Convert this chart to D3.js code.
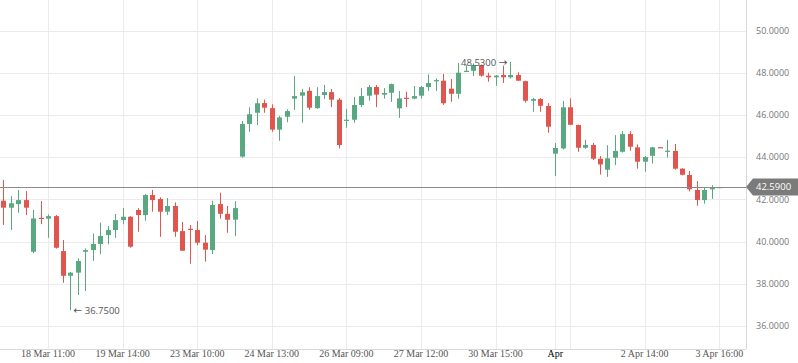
<!DOCTYPE html>
<html>
<head>
<meta charset="utf-8">
<script src="https://cdn.jsdelivr.net/npm/d3@7"></script>
<style>
  html, body { margin: 0; padding: 0; background: #fff; }
  svg { display: block; }
</style>
</head>
<body>
<svg id="chart" width="798" height="363"></svg>
<script>
// ---- data ----
const open  = [41.94,41.61,41.78,41.97,39.52,41.13,41.09,41.21,39.55,38.38,38.53,39.52,39.60,39.89,40.31,40.55,41.02,41.18,41.50,41.26,42.21,42.02,41.42,41.69,40.50,40.61,40.55,39.95,39.60,41.78,41.32,41.04,44.03,45.58,46.11,46.57,46.33,45.31,45.92,46.78,46.92,47.15,46.33,46.95,47.09,46.73,45.73,45.78,46.48,46.92,47.33,46.97,47.06,46.32,46.82,46.78,46.92,47.33,47.60,47.63,47.25,47.01,48.06,48.10,48.37,47.87,47.79,47.90,47.79,47.90,47.61,46.68,46.76,46.43,44.17,44.42,46.37,45.53,44.45,44.58,43.93,43.41,43.98,44.26,45.10,44.47,43.79,44.07,44.48,44.28,44.30,43.46,43.16,42.45,41.97,42.48,42.56];
const high  = [42.92,42.16,42.45,42.40,41.50,41.92,41.29,41.26,40.08,38.56,39.21,39.68,40.39,40.90,40.74,41.31,41.59,41.21,41.59,42.26,42.45,42.10,42.07,41.86,40.93,40.79,40.98,40.31,41.94,42.32,41.69,41.92,45.72,46.37,46.79,46.73,46.51,45.96,46.27,47.85,47.24,47.32,47.32,47.43,47.24,46.81,46.29,46.86,47.28,47.43,47.43,47.28,47.49,47.14,47.11,47.38,47.38,47.93,47.74,47.95,47.71,48.47,48.37,48.45,48.40,48.01,47.90,48.34,48.53,48.03,47.63,46.82,46.81,46.57,44.68,46.67,46.79,45.55,44.83,44.68,44.06,44.57,45.05,45.24,45.24,44.61,44.06,44.48,44.48,44.82,44.63,43.48,43.35,42.87,42.56,42.68,42.60];
const low   = [40.79,40.55,41.37,41.26,39.45,40.83,40.18,39.67,38.05,36.75,37.47,37.66,39.09,39.41,39.87,40.18,40.82,39.71,40.47,40.99,41.42,40.23,41.26,40.23,39.55,38.95,39.84,39.05,39.41,41.09,40.42,40.27,43.98,45.21,45.53,46.11,45.21,44.78,45.66,46.25,45.64,46.25,46.30,46.76,46.38,44.42,45.40,45.64,46.38,46.68,46.38,46.78,46.62,45.87,46.38,46.75,46.78,47.14,47.14,46.48,46.63,46.78,48.04,47.85,47.82,47.58,47.39,47.52,47.73,47.63,46.59,46.16,46.16,45.16,43.11,44.37,45.54,44.26,44.40,43.87,43.18,43.07,43.63,44.22,44.31,43.46,43.31,43.70,44.47,43.99,43.41,43.14,42.38,41.70,41.80,42.03,42.56];
const close = [41.61,41.82,41.97,41.61,41.10,41.09,41.21,39.71,38.38,38.53,39.08,39.60,39.89,40.27,40.55,41.02,41.18,39.76,41.26,42.21,41.97,41.42,41.69,40.47,39.57,40.58,39.95,39.62,41.74,41.32,41.04,41.59,45.58,46.04,46.56,46.35,45.31,45.89,46.19,46.90,47.08,46.35,46.90,47.09,46.73,44.58,45.78,46.48,46.90,47.33,46.97,47.05,47.47,46.79,46.79,46.90,47.33,47.52,47.66,46.56,47.01,48.01,48.10,48.37,47.87,47.79,47.87,47.79,47.90,47.63,46.68,46.76,46.44,45.45,44.44,46.37,45.54,44.45,44.58,43.93,43.66,43.95,44.30,45.10,44.50,43.79,44.01,44.47,44.47,44.31,43.46,43.17,42.48,41.97,42.45,42.57,42.59];

const gridIndex  = [6, 16, 26, 36, 46, 56, 66, 74, 76, 86, 96];
const tickIndex  = [6, 16, 26, 36, 46, 56, 66, 74, 86, 96];
const tickLabels = ["18 Mar 11:00","19 Mar 14:00","23 Mar 10:00","24 Mar 13:00","26 Mar 09:00","27 Mar 12:00","30 Mar 15:00","Apr","2 Apr 14:00","3 Apr 16:00"];
const priceTicks = [36, 38, 40, 42, 44, 46, 48, 50];
const lastPrice = 42.59;
const maxHigh = {index: 68, value: 48.53};
const minLow  = {index: 9,  value: 36.75};

// ---- layout ----
const W = 798, H = 363;
const plotRight = 746, plotBottom = 349;
const svg = d3.select("#chart");

const n = open.length;
const x = d3.scaleLinear().domain([0, n - 1]).range([3.3, 719.3]);
const y = d3.scaleLinear().domain([34.91, 51.456]).range([plotBottom, 0]);

const green = "#5aa882", red = "#e0564f";
const fmt = d3.format(".4f");
const sans = "'Open Sans', sans-serif";

// horizontal grid
svg.append("g").selectAll("line").data(priceTicks).join("line")
  .attr("x1", 0).attr("x2", plotRight)
  .attr("y1", d => Math.round(y(d)) + 0.5).attr("y2", d => Math.round(y(d)) + 0.5)
  .attr("stroke", "#ebebeb").attr("stroke-width", 1);

// vertical grid
svg.append("g").selectAll("line").data(gridIndex).join("line")
  .attr("x1", d => Math.round(x(d)) + 0.5).attr("x2", d => Math.round(x(d)) + 0.5)
  .attr("y1", 0).attr("y2", plotBottom)
  .attr("stroke", "#ebebeb").attr("stroke-width", 1);

// axis borders
svg.append("line").attr("x1", plotRight + 0.5).attr("x2", plotRight + 0.5)
  .attr("y1", 0).attr("y2", plotBottom).attr("stroke", "#d9d9d9");
svg.append("line").attr("x1", 0).attr("x2", plotRight)
  .attr("y1", plotBottom + 0.5).attr("y2", plotBottom + 0.5).attr("stroke", "#d9d9d9");

// candles
const idx = d3.range(n);
const cg = svg.append("g");
const col = i => close[i] >= open[i] ? green : red;
cg.selectAll("line.wick").data(idx).join("line")
  .attr("class", "wick")
  .attr("x1", i => Math.round(x(i)) + 0.5).attr("x2", i => Math.round(x(i)) + 0.5)
  .attr("y1", i => y(high[i])).attr("y2", i => y(low[i]))
  .attr("stroke", col).attr("stroke-width", 1);
cg.selectAll("rect.body").data(idx).join("rect")
  .attr("class", "body")
  .attr("x", i => Math.round(x(i)) - 2)
  .attr("width", 5)
  .attr("y", i => y(Math.max(open[i], close[i])))
  .attr("height", i => Math.max(1.2, Math.abs(y(open[i]) - y(close[i]))))
  .attr("fill", col);

// last price line
svg.append("line").attr("x1", 0).attr("x2", plotRight)
  .attr("y1", Math.round(y(lastPrice)) + 0.5).attr("y2", Math.round(y(lastPrice)) + 0.5)
  .attr("stroke", "#8a8a8a").attr("stroke-width", 1.2);

// y axis labels
svg.append("g").selectAll("text").data(priceTicks).join("text")
  .attr("x", 756).attr("y", d => y(d))
  .attr("dy", "0.35em")
  .attr("font-family", sans).attr("font-size", 9)
  .attr("fill", "#777").text(d => fmt(d));

// price tag
const py = y(lastPrice);
svg.append("path")
  .attr("d", `M${plotRight},${py} L${plotRight + 7},${py - 8.5} L${W},${py - 8.5} L${W},${py + 8.5} L${plotRight + 7},${py + 8.5} Z`)
  .attr("fill", "#7b7b7b");
svg.append("text").attr("x", 756).attr("y", py).attr("dy", "0.35em")
  .attr("font-family", sans).attr("font-size", 9.5)
  .attr("fill", "#fff").text(fmt(lastPrice));

// x axis labels
svg.append("g").selectAll("text").data(tickIndex).join("text")
  .attr("x", d => x(d)).attr("y", 357)
  .attr("text-anchor", "middle")
  .attr("font-family", "'Liberation Serif', serif").attr("font-size", 10)
  .attr("fill", (d, i) => tickLabels[i] === "Apr" ? "#000" : "#555")
  .text((d, i) => tickLabels[i]);

// high / low annotations
const hi = svg.append("text")
  .attr("x", x(maxHigh.index) - 3).attr("y", y(maxHigh.value) + 0.5).attr("dy", "0.35em")
  .attr("text-anchor", "end")
  .attr("font-family", sans).attr("font-size", 9.5)
  .attr("fill", "#555");
hi.append("tspan").text(fmt(maxHigh.value) + " ");
hi.append("tspan").attr("font-family", "'DejaVu Sans', sans-serif").attr("font-size", 10.5).text("\u2192");

const lo = svg.append("text")
  .attr("x", x(minLow.index) + 3).attr("y", y(minLow.value) + 0.5).attr("dy", "0.35em")
  .attr("text-anchor", "start")
  .attr("font-family", sans).attr("font-size", 9.5)
  .attr("fill", "#555");
lo.append("tspan").attr("font-family", "'DejaVu Sans', sans-serif").attr("font-size", 10.5).text("\u2190");
lo.append("tspan").text(" " + fmt(minLow.value));
</script>
</body>
</html>
